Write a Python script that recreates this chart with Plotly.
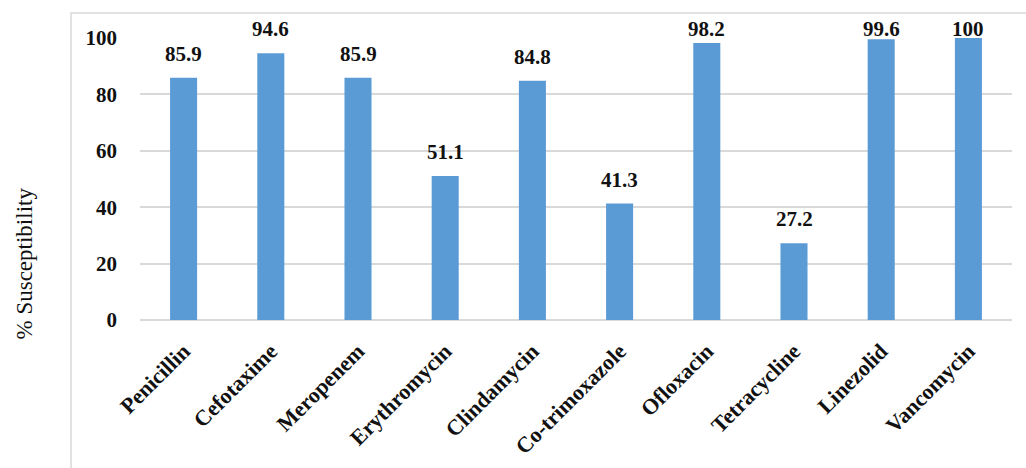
import plotly.graph_objects as go

antibiotics = ["Penicillin", "Cefotaxime", "Meropenem", "Erythromycin", "Clindamycin",
               "Co-trimoxazole", "Ofloxacin", "Tetracycline", "Linezolid", "Vancomycin"]
susceptibility = [85.9, 94.6, 85.9, 51.1, 84.8, 41.3, 98.2, 27.2, 99.6, 100]
y_ticks = [0, 20, 40, 60, 80, 100]

BAR = "#5B9BD5"
GRID = "#D9D9D9"
SERIF = "Liberation Serif"
INK = "#111111"

fig = go.Figure(go.Bar(
    x=antibiotics,
    y=susceptibility,
    marker=dict(color=BAR, line=dict(width=0)),
    width=0.31,
    cliponaxis=False,
))

# value labels above bars, kept inside the top of the plot area
for name, v in zip(antibiotics, susceptibility):
    fig.add_annotation(
        x=name, y=min(v, 94.8), text=f"{v:g}",
        showarrow=False, yanchor="bottom", yshift=10,
        font=dict(family=SERIF, size=21, color=INK, weight="bold"),
    )

fig.add_annotation(
    text="% Susceptibility", textangle=-90,
    xref="paper", yref="paper", x=-0.132, y=0.2, xanchor="center", yanchor="middle",
    showarrow=False, font=dict(family=SERIF, size=23, color=INK),
)

# outer chart frame
fig.add_shape(type="rect", xref="paper", yref="paper",
              x0=-0.0791, x1=1.03, y0=-0.6, y1=1.0887,
              line=dict(color=GRID, width=1.5), fillcolor="rgba(0,0,0,0)", layer="below")

fig.update_layout(
    width=1026, height=468,
    margin=dict(l=140, r=14, t=38, b=148, pad=0, autoexpand=False),
    paper_bgcolor="white", plot_bgcolor="white",
    showlegend=False,
    xaxis=dict(
        tickangle=-45, showgrid=False, showline=False, ticks="", automargin=False,
        tickfont=dict(family=SERIF, size=22, color=INK, weight="bold"),
        ticklabelstandoff=13,
    ),
    yaxis=dict(
        range=[0, 100], tickvals=y_ticks, showgrid=True, gridcolor=GRID, gridwidth=1.5,
        zeroline=True, zerolinecolor=GRID, zerolinewidth=1.5, showline=False, ticks="",
        automargin=False,
        tickfont=dict(family=SERIF, size=21, color=INK, weight="bold"),
        ticklabelstandoff=22,
    ),
)

fig.write_html("out.html")
